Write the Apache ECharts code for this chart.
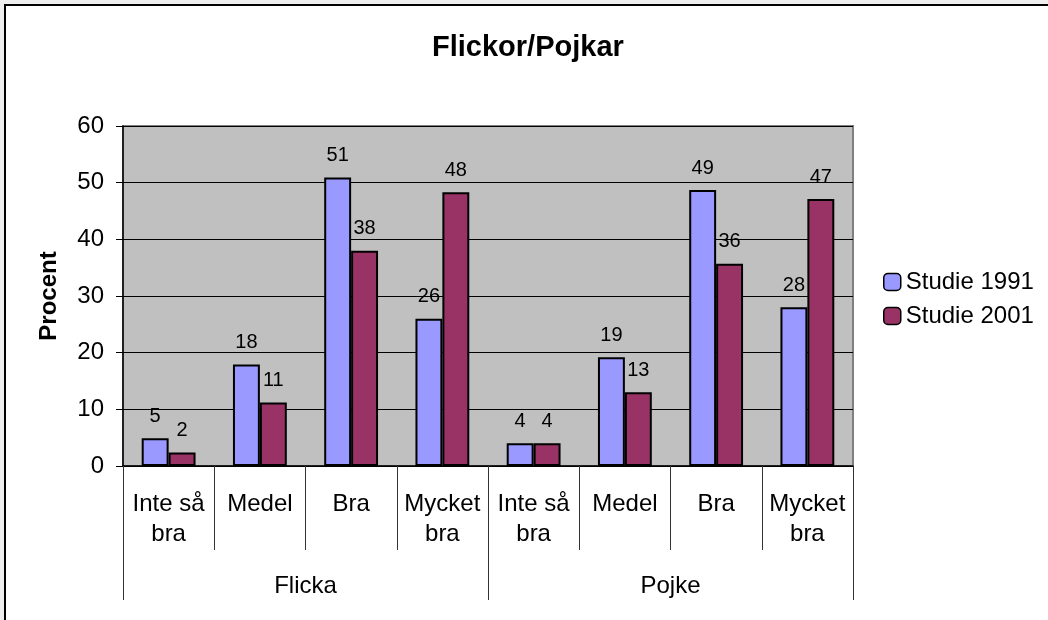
<!DOCTYPE html>
<html>
<head>
<meta charset="utf-8">
<title>Flickor/Pojkar</title>
<script src="https://cdn.jsdelivr.net/npm/echarts/dist/echarts.min.js"></script>
<style>
  html, body { margin: 0; padding: 0; background: #eeeeee; }
  #main { width: 1048px; height: 620px; }
</style>
</head>
<body>
<div id="main"></div>
<script>
// kategorier (två nivåer på x-axeln)
const subCats = ['Inte så\nbra', 'Medel', 'Bra', 'Mycket\nbra', 'Inte så\nbra', 'Medel', 'Bra', 'Mycket\nbra']
const groups = ['Flicka', 'Pojke']

// procent per studie
const studie1991 = [4.9, 17.9, 50.9, 26.0, 4.0, 19.2, 48.7, 28.0]
const studie2001 = [2.4, 11.2, 38.0, 48.3, 4.0, 13.0, 35.7, 47.1]

const seriesNames = ['Studie 1991', 'Studie 2001']
const yTicks = { min: 0, max: 60, interval: 10 }

const font = 'Liberation Sans, Arial, sans-serif'

const chart = echarts.init(document.getElementById('main'))

function barSeries(name, data, color) {
  return {
    name: name,
    type: 'bar',
    xAxisIndex: 0,
    data: data,
    barGap: '0%',
    barCategoryGap: '41%',
    itemStyle: { color: color, borderColor: '#000', borderWidth: 2 },
    label: {
      show: true,
      position: 'top',
      distance: 12,
      color: '#000',
      fontFamily: font,
      fontSize: 20,
      formatter: p => Math.round(p.value)
    }
  }
}

const option = {
  backgroundColor: '#eeeeee',
  animation: false,
  textStyle: { fontFamily: font },
  graphic: {
    elements: [{
      type: 'rect',
      z: -100,
      shape: { x: 5, y: 5, width: 1100, height: 700 },
      style: { fill: '#ffffff', stroke: '#000', lineWidth: 2 }
    }]
  },
  title: {
    text: 'Flickor/Pojkar',
    left: 432,
    top: 33,
    padding: 0,
    textStyle: { fontFamily: font, fontSize: 29, fontWeight: 'bold', color: '#000' }
  },
  legend: {
    orient: 'vertical',
    left: 878,
    top: 265,
    itemWidth: 17,
    itemHeight: 17,
    itemGap: 10,
    data: seriesNames,
    itemStyle: { borderColor: '#000', borderWidth: 1.5 },
    textStyle: { fontFamily: font, fontSize: 24, color: '#000' }
  },
  grid: {
    left: 123,
    right: 195,
    top: 126,
    bottom: 154,
    show: true,
    backgroundColor: '#c0c0c0',
    borderColor: '#808080',
    borderWidth: 2
  },
  xAxis: [{
    type: 'category',
    data: subCats,
    position: 'bottom',
    axisLine: { lineStyle: { color: '#000', width: 1.5 } },
    axisTick: { show: true, interval: 0, length: 84, lineStyle: { color: '#333' } },
    axisLabel: {
      interval: 0,
      margin: 23,
      color: '#000',
      fontFamily: font,
      fontSize: 24,
      lineHeight: 30
    }
  }, {
    type: 'category',
    data: groups,
    position: 'bottom',
    axisLine: { show: false },
    axisTick: { show: true, interval: 0, length: 134, lineStyle: { color: '#333' } },
    axisLabel: {
      interval: 0,
      margin: 108,
      color: '#000',
      fontFamily: font,
      fontSize: 24
    },
    splitLine: { show: false }
  }],
  yAxis: {
    type: 'value',
    min: yTicks.min,
    max: yTicks.max,
    interval: yTicks.interval,
    name: 'Procent',
    nameLocation: 'middle',
    nameGap: 62,
    nameRotate: 90,
    nameTextStyle: { fontFamily: font, fontSize: 24, fontWeight: 'bold', color: '#000' },
    axisLine: { show: true, lineStyle: { color: '#000', width: 1.5 } },
    axisTick: { show: true, length: 7, lineStyle: { color: '#000' } },
    axisLabel: { margin: 19, color: '#000', fontFamily: font, fontSize: 24 },
    splitLine: { show: true, lineStyle: { color: '#000', width: 1 } }
  },
  series: [
    barSeries(seriesNames[0], studie1991, '#9999ff'),
    barSeries(seriesNames[1], studie2001, '#993366')
  ]
}

chart.setOption(option)
</script>
</body>
</html>
